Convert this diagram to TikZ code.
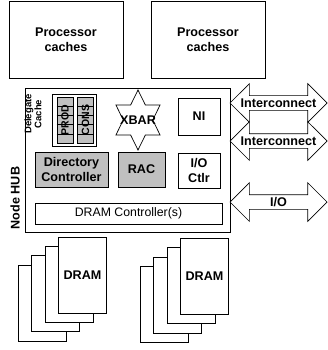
\documentclass[tikz,border=0pt]{standalone}
\usepackage{fontspec}
\setmainfont{Liberation Sans}
\usetikzlibrary{positioning,shapes.arrows,calc}
\definecolor{boxgrey}{RGB}{192,192,192}

\begin{document}
\begin{tikzpicture}[x=1pt,y=-1pt,node distance=142pt,line width=0.7pt,
                    font=\fontsize{12.6}{14.5}\selectfont\bfseries]
  \tikzstyle{every node}=[align=center,inner sep=0pt]
  \tikzstyle{unit}=[draw=black,fill=white]
  \tikzstyle{greyunit}=[unit,fill=boxgrey]
  \tikzstyle{small}=[font=\fontsize{9.5}{8.5}\selectfont\bfseries]
  \tikzstyle{tag}=[font=\fontsize{10.5}{10}\selectfont\bfseries]
  \tikzstyle{link}=[unit,double arrow,double arrow head extend=12pt,
                    minimum height=97pt,inner xsep=-9pt,inner ysep=2.5pt,
                    text height=9pt,text depth=0pt]
  \tikzstyle{dramcard}=[unit,minimum width=48pt,minimum height=76pt]

  \useasboundingbox (0,0) rectangle (328,350);

  % processors
  \node[unit,minimum width=114pt,minimum height=77pt] (P1) at (66,39.5) {Processor\\caches};
  \node[unit,minimum width=114pt,minimum height=77pt] (P2) [right of=P1] {Processor\\caches};

  % the hub
  \node[unit,minimum width=205pt,minimum height=144pt] (hub) at (127.5,160) {};
  \node[rotate=90] (hubname) at (15,198) {Node HUB};

  % delegate cache
  \node[rotate=90,small] (dcname) at (33,114) {Delegate\\Cache};
  \node[unit,minimum width=44pt,minimum height=52pt] (deleg) at (74,120) {};
  \node[greyunit,minimum width=16pt,minimum height=46pt] (prod) at (65,120) {};
  \node[greyunit,minimum width=16pt,minimum height=46pt] (cons) at (85.5,120) {};
  \foreach \c in {prod,cons}
    \foreach \k in {1,...,4}
      \draw ($(\c.north west)!\k/5!(\c.south west)$) -- ($(\c.north east)!\k/5!(\c.south east)$);
  \node[rotate=90,tag] (prodname) at (prod) {PROD};
  \node[rotate=90,tag] (consname) at (cons) {CONS};

  % crossbar
  \coordinate (xc) at (138,120);
  \draw[unit,shift={(xc)},xscale=0.85] (90:30) -- (60:17.32) -- (30:30) -- (0:17.32)
    -- (-30:30) -- (-60:17.32) -- (-90:30) -- (-120:17.32) -- (-150:30)
    -- (180:17.32) -- (150:30) -- (120:17.32) -- cycle;
  \node (xbar) at (xc) {XBAR};

  \node[unit,minimum width=42pt,minimum height=37pt] (NI) at (199,116.5) {NI};
  \node[greyunit,minimum width=73pt,minimum height=35pt] (dir) at (71.5,169.5) {Directory\\Controller};
  \node[greyunit,minimum width=47pt,minimum height=35pt] (RAC) at (141.5,169.5) {RAC};
  \node[unit,minimum width=42pt,minimum height=35pt] (ioctl) at (199,170.5) {I/O\\Ctlr};
  \node[unit,minimum width=187pt,minimum height=21pt,font=\fontsize{12.3}{14}\selectfont]
    (dramctl) at (128.5,213.5) {DRAM Controller(s)};

  % links
  \node[link] (net1) at (278.5,103) {Interconnect};
  \node[link] (net2) at (278.5,141) {Interconnect};
  \node[link] (iolink) at (278.5,202) {I/O};

  % memory
  \foreach \i in {3,2,1} {
    \node[dramcard] (memA\i) at (82.5-13.5*\i,275+9.3*\i) {};
    \node[dramcard] (memB\i) at (204.5-13.5*\i,276.5+9.3*\i) {};
  }
  \node[dramcard] (memA) at (82.5,275) {DRAM};
  \node[dramcard] (memB) at (204.5,276.5) {DRAM};
\end{tikzpicture}
\end{document}
